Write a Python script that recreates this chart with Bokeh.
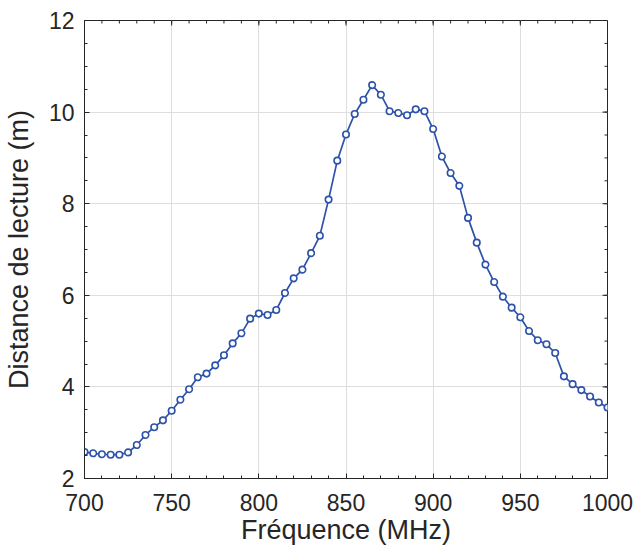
from bokeh.plotting import figure
from bokeh.models import Range1d, FixedTicker
from bokeh.embed import file_html
from bokeh.resources import INLINE

freq = list(range(700, 1001, 5))
distance = [2.58, 2.55, 2.53, 2.52, 2.52, 2.57, 2.73, 2.95, 3.12, 3.27,
            3.48, 3.72, 3.95, 4.21, 4.29, 4.47, 4.69, 4.95, 5.17, 5.49,
            5.60, 5.57, 5.68, 6.05, 6.37, 6.56, 6.92, 7.30, 8.09, 8.94,
            9.51, 9.96, 10.27, 10.59, 10.38, 10.02, 9.98, 9.93, 10.06, 10.02,
            9.63, 9.03, 8.67, 8.39, 7.69, 7.15, 6.67, 6.29, 5.97, 5.73,
            5.52, 5.22, 5.02, 4.93, 4.74, 4.23, 4.06, 3.93, 3.79, 3.66,
            3.55]
x_ticks = [700, 750, 800, 850, 900, 950, 1000]
y_ticks = [2, 4, 6, 8, 10, 12]
x_minor = list(range(700, 1001, 10))
y_minor = [2 + 0.5 * i for i in range(21)]

FONT = "Liberation Sans"
AX = "#262626"
FW, FH = 523, 458
X0, X1, Y0, Y1 = 700, 1000, 2, 12

p = figure(width=638, height=552, output_backend="svg", toolbar_location=None,
           x_range=Range1d(X0, X1), y_range=Range1d(Y0, Y1),
           min_border_left=84, min_border_right=31, min_border_top=20,
           min_border_bottom=74, frame_width=FW, frame_height=FH)
p.outline_line_color = AX
p.outline_line_width = 1
p.background_fill_color = "white"
p.border_fill_color = "white"

p.xaxis.ticker = FixedTicker(ticks=x_ticks, minor_ticks=x_minor)
p.yaxis.ticker = FixedTicker(ticks=y_ticks, minor_ticks=y_minor)
for ax in (p.xaxis[0], p.yaxis[0]):
    ax.axis_line_color = AX
    ax.major_tick_line_color = AX
    ax.minor_tick_line_color = AX
    ax.major_tick_in = 5
    ax.major_tick_out = 0
    ax.minor_tick_in = 3
    ax.minor_tick_out = 0
    ax.major_label_text_font = FONT
    ax.major_label_text_font_size = "23px"
    ax.major_label_text_color = AX
    ax.axis_label_text_font = FONT
    ax.axis_label_text_font_size = "27px"
    ax.axis_label_text_font_style = "normal"
    ax.axis_label_text_color = AX
p.xaxis.axis_label = "Fréquence (MHz)"
p.yaxis.axis_label = "Distance de lecture (m)"
p.xaxis.major_label_standoff = 15
p.yaxis.major_label_standoff = 10
p.xaxis.axis_label_standoff = 1
p.yaxis.axis_label_standoff = 12

p.xgrid.ticker = FixedTicker(ticks=x_ticks)
p.ygrid.ticker = FixedTicker(ticks=y_ticks)
p.grid.grid_line_color = "#dedede"
p.grid.grid_line_width = 1

# inward ticks on the top and right edges of the box
dy_major = 5 * (Y1 - Y0) / FH
dy_minor = 3 * (Y1 - Y0) / FH
dx_major = 5 * (X1 - X0) / FW
dx_minor = 3 * (X1 - X0) / FW
p.segment(x0=x_ticks, y0=[Y1] * len(x_ticks), x1=x_ticks,
          y1=[Y1 - dy_major] * len(x_ticks), line_color=AX, line_width=1)
p.segment(x0=x_minor, y0=[Y1] * len(x_minor), x1=x_minor,
          y1=[Y1 - dy_minor] * len(x_minor), line_color=AX, line_width=1)
p.segment(x0=[X1] * len(y_ticks), y0=y_ticks, x1=[X1 - dx_major] * len(y_ticks),
          y1=y_ticks, line_color=AX, line_width=1)
p.segment(x0=[X1] * len(y_minor), y0=y_minor, x1=[X1 - dx_minor] * len(y_minor),
          y1=y_minor, line_color=AX, line_width=1)

color = "#2d52aa"
p.line(freq, distance, line_color=color, line_width=1.7)
p.scatter(freq, distance, marker="circle", size=6.5, line_color=color,
          line_width=1.6, fill_color="white")

open("out.html", "w").write(file_html(p, INLINE))
